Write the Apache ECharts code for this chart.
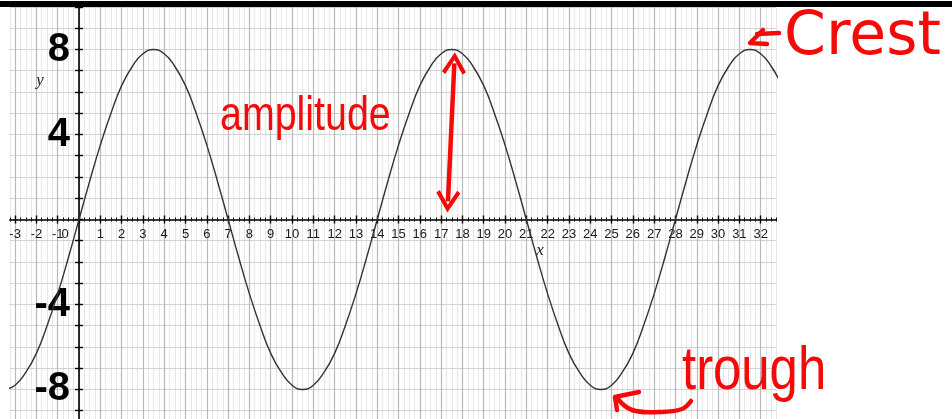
<!DOCTYPE html>
<html>
<head>
<meta charset="utf-8">
<script src="https://cdn.jsdelivr.net/npm/echarts@6/dist/echarts.min.js"></script>
<style>
  html, body { margin: 0; padding: 0; background: #fff; }
  #chart { width: 952px; height: 419px; }
</style>
</head>
<body>
<div id="chart"></div>
<script>
// curve, every half unit
const xValues = [-3.5, -3, -2.5, -2, -1.5, -1, -0.5,
  0, 0.5, 1, 1.5, 2, 2.5, 3, 3.5, 4, 4.5, 5, 5.5, 6, 6.5, 7, 7.5, 8, 8.5, 9, 9.5, 10, 10.5, 11, 11.5, 12, 12.5, 13, 13.5,
  14, 14.5, 15, 15.5, 16, 16.5, 17, 17.5, 18, 18.5, 19, 19.5, 20, 20.5, 21, 21.5, 22, 22.5, 23, 23.5, 24, 24.5, 25, 25.5, 26, 26.5, 27, 27.5,
  28, 28.5, 29, 29.5, 30, 30.5, 31, 31.5, 32, 32.5, 33]
const yValues = [-8, -7.8, -7.2, -6.3, -5.0, -3.5, -1.8,
  0, 1.8, 3.5, 5.0, 6.3, 7.2, 7.8, 8, 7.8, 7.2, 6.3, 5.0, 3.5, 1.8, 0, -1.8, -3.5, -5.0, -6.3, -7.2, -7.8, -8, -7.8, -7.2, -6.3, -5.0, -3.5, -1.8,
  0, 1.8, 3.5, 5.0, 6.3, 7.2, 7.8, 8, 7.8, 7.2, 6.3, 5.0, 3.5, 1.8, 0, -1.8, -3.5, -5.0, -6.3, -7.2, -7.8, -8, -7.8, -7.2, -6.3, -5.0, -3.5, -1.8,
  0, 1.8, 3.5, 5.0, 6.3, 7.2, 7.8, 8, 7.8, 7.2, 6.3]

// ticks and labels
const xTickValues = [-3, -2, -1, 0, 1, 2, 3, 4, 5, 6, 7, 8, 9, 10, 11, 12, 13, 14, 15, 16,
  17, 18, 19, 20, 21, 22, 23, 24, 25, 26, 27, 28, 29, 30, 31, 32]
const yTickValues = [-9, -8, -7, -6, -5, -4, -3, -2, -1, 0, 1, 2, 3, 4, 5, 6, 7, 8, 9, 10]
const yLabelValues = [-8, -4, 4, 8]

// amplitude arrow ends (data coords)
const amplitudeTop = [17.62, 7.35]
const amplitudeBottom = [17.32, 0.85]

const chevron = 'path://M0,0 L11,15 L8,17 L0,6 L-8,17 L-11,15 Z'
const red = '#f50a0a'

const myChart = echarts.init(document.getElementById('chart'))

// axes sit on the zero lines: shift them in from the grid edges
const xOffset = -199.5
const yOffset = -69.2

const xBase = {
  type: 'value',
  min: -3.25,
  max: 32.72,
  position: 'bottom',
  offset: xOffset,
  axisLine: { show: false, onZero: false },
  axisLabel: { show: false },
  axisTick: { show: false },
  splitLine: { show: false }
}
const yBase = {
  type: 'value',
  min: -9.39,
  max: 10,
  position: 'left',
  offset: yOffset,
  axisLine: { show: false, onZero: false },
  axisLabel: { show: false },
  axisTick: { show: false },
  splitLine: { show: false }
}

const option = {
  animation: false,
  backgroundColor: '#fff',
  grid: { left: 9.78, right: 176, top: 7, bottom: 0, containLabel: false, outerBoundsMode: 'none' },
  xAxis: [
    {
      ...xBase,
      axisLine: { show: true, onZero: false, lineStyle: { color: '#000', width: 1.6 } },
      axisTick: { show: true, customValues: xTickValues, length: 4, lineStyle: { color: '#000', width: 1.4 } },
      axisLabel: {
        show: true,
        customValues: xTickValues,
        margin: 8,
        color: '#1a1a1a',
        fontSize: 13,
        fontFamily: 'Liberation Sans',
        formatter: function (v) { return v === 0 ? '{z|0}' : String(v) },
        rich: { z: { fontSize: 13, fontFamily: 'Liberation Sans', color: '#1a1a1a', padding: [0, 28, 0, 0] } }
      },
      splitLine: { show: true, lineStyle: { color: '#b8b8b8', width: 1.2 } },
      z: 5
    },
    {
      ...xBase,
      axisTick: { show: true, inside: true, customValues: xTickValues, length: 4, lineStyle: { color: '#000', width: 1.4 } },
      z: 5
    },
    {
      ...xBase,
      interval: 0.25,
      axisTick: { show: true, length: 2, lineStyle: { color: '#000', width: 1 } },
      splitLine: { show: true, lineStyle: { color: '#e6e6e6', width: 1 } },
      z: 4
    },
    {
      ...xBase,
      interval: 0.25,
      axisTick: { show: true, inside: true, length: 2, lineStyle: { color: '#000', width: 1 } },
      z: 4
    }
  ],
  yAxis: [
    {
      ...yBase,
      axisLine: { show: true, onZero: false, lineStyle: { color: '#000', width: 1.6 } },
      axisTick: { show: true, customValues: yTickValues, length: 4, lineStyle: { color: '#000', width: 1.4 } },
      axisLabel: {
        show: true,
        customValues: yLabelValues,
        margin: 9,
        color: '#000',
        fontSize: 40,
        fontWeight: 'bold',
        fontFamily: 'Liberation Sans'
      },
      splitLine: { show: true, lineStyle: { color: '#d2d2d2', width: 1.2 } },
      z: 5
    },
    {
      ...yBase,
      axisTick: { show: true, inside: true, customValues: yTickValues, length: 4, lineStyle: { color: '#000', width: 1.4 } },
      z: 5
    },
    {
      ...yBase,
      axisTick: { show: false, customValues: yLabelValues },
      splitLine: { show: true, lineStyle: { color: '#b4b4b4', width: 1.2 } },
      z: 4
    }
  ],
  series: [
    {
      type: 'line',
      xAxisIndex: 0,
      yAxisIndex: 0,
      data: xValues.map((x, i) => [x, yValues[i]]),
      smooth: 0.5,
      showSymbol: false,
      clip: true,
      lineStyle: { color: '#333', width: 1.4 },
      z: 10,
      markLine: {
        silent: true,
        symbol: [chevron, chevron],
        symbolSize: [24, 22],
        label: { show: false },
        lineStyle: { color: red, width: 4.5, type: 'solid' },
        itemStyle: { color: red },
        data: [[{ coord: amplitudeTop }, { coord: amplitudeBottom }]]
      }
    }
  ],
  graphic: [
    // black band across the top
    { type: 'rect', left: 0, top: 1, shape: { width: 952, height: 6 }, style: { fill: '#000' }, z: 100 },
    // axis names
    { type: 'text', x: 540, y: 251, style: { text: 'x', font: 'italic 17px "Liberation Serif"', fill: '#222', align: 'center', verticalAlign: 'middle' }, z: 100 },
    { type: 'text', x: 40, y: 81, style: { text: 'y', font: 'italic 17px "Liberation Serif"', fill: '#222', align: 'center', verticalAlign: 'middle' }, z: 100 },
    // handwritten notes
    { type: 'text', x: 220, y: 117, scaleX: 0.82, style: { text: 'amplitude', font: '48px "Liberation Sans"', fill: red, verticalAlign: 'middle' }, z: 100 },
    { type: 'text', x: 784, y: 38, style: { text: 'Crest', font: '60px "DejaVu Sans"', fill: red, verticalAlign: 'middle' }, z: 100 },
    { type: 'text', x: 682, y: 372, scaleX: 0.82, style: { text: 'trough', font: '62px "Liberation Sans"', fill: red, verticalAlign: 'middle' }, z: 100 },
    // crest arrow
    { type: 'polyline', shape: { points: [[763, 30], [750, 43], [767, 44]] }, style: { stroke: red, lineWidth: 4.5, fill: null, lineCap: 'round', lineJoin: 'round' }, z: 100 },
    { type: 'polyline', shape: { points: [[757, 34], [779, 33]] }, style: { stroke: red, lineWidth: 4.5, fill: null, lineCap: 'round' }, z: 100 },
    // trough arrow
    { type: 'polyline', shape: { points: [[639, 392], [615, 397], [617, 410]] }, style: { stroke: red, lineWidth: 4.5, fill: null, lineCap: 'round', lineJoin: 'round' }, z: 100 },
    { type: 'polyline', shape: { points: [[617, 398], [632, 410], [660, 412], [682, 409], [691, 401]], smooth: 0.4 }, style: { stroke: red, lineWidth: 4.5, fill: null, lineCap: 'round' }, z: 100 }
  ]
}

myChart.setOption(option)

window.addEventListener('resize', function () {
  myChart.resize()
})
</script>
</body>
</html>
